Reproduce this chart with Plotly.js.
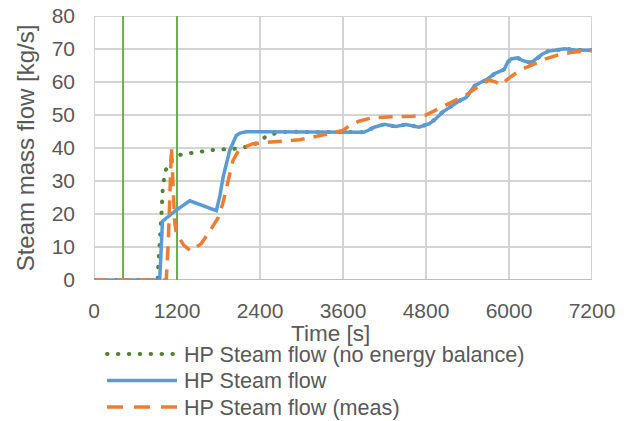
<!DOCTYPE html>
<html>
<head>
<meta charset="utf-8">
<script src="https://cdn.plot.ly/plotly-3.0.1.min.js"></script>
<style>
  html, body { margin: 0; padding: 0; background: #ffffff; }
  #chart { width: 627px; height: 421px; }
</style>
</head>
<body>
<div id="chart"></div>
<script>
// HP steam mass flow during start-up [kg/s] against time [s]

const seriesNames = [
  'HP Steam flow (no energy balance)',
  'HP Steam flow',
  'HP Steam flow (meas)'
];

// Model without energy balance
const tNoEB = [0, 920, 930, 952, 975, 995, 1010, 1030, 1095, 1190, 1310, 1500, 1750, 2000, 2080, 2250,
  2394, 2500, 2660, 2800, 3200, 3600, 3900, 3960, 4050, 4200, 4360, 4510, 4700, 4850, 4950, 5040,
  5200, 5300, 5380, 5450, 5500, 5600, 5670, 5790, 5930, 5980, 6030, 6120, 6200, 6290, 6340, 6410,
  6480, 6560, 6680, 6800, 6960, 7200];
const vNoEB = [0, 0, 4.6, 11, 20, 28, 31, 33, 35.7, 37.7, 38.2, 38.8, 39.5, 39.7, 39.8, 40.6,
  41.8, 43.8, 44.6, 44.9, 44.9, 44.8, 44.8, 45.3, 46.3, 47.2, 46.5, 47.1, 46.3, 47.4, 49, 50.9,
  53.3, 54.5, 55.3, 57.5, 58.8, 60.0, 60.6, 62.5, 63.8, 66, 67.0, 67.3, 66.5, 65.9, 66.2, 67.3,
  68.4, 69.3, 69.6, 70.1, 69.7, 69.6];

// Model with energy balance
const tFlow = [0, 950, 990, 1170, 1384, 1560, 1769, 1820, 1865, 1961, 2057, 2110, 2153, 2200, 2400,
  2800, 3200, 3600, 3900, 3960, 4050, 4200, 4360, 4510, 4700, 4850, 4950, 5040, 5200, 5300, 5380,
  5450, 5500, 5600, 5670, 5790, 5930, 5980, 6030, 6120, 6200, 6290, 6340, 6410, 6480, 6560, 6680,
  6800, 6960, 7200];
const vFlow = [0, 0, 17.8, 20.9, 24.0, 22.6, 21.0, 25.5, 31, 39.2, 43.8, 44.5, 44.8, 44.9, 44.9,
  44.9, 44.9, 44.8, 44.8, 45.3, 46.3, 47.2, 46.5, 47.1, 46.3, 47.4, 49, 50.9, 53.3, 54.5, 55.3,
  57.5, 58.8, 60.0, 60.6, 62.5, 63.8, 66, 67.0, 67.3, 66.5, 65.9, 66.2, 67.3, 68.4, 69.3, 69.6,
  70.1, 69.7, 69.6];

// Measured flow
const tMeas = [0, 1045, 1075, 1100, 1120, 1140, 1165, 1190, 1300, 1400, 1550, 1673, 1793, 1860,
  1937, 2009, 2105, 2200, 2300, 2450, 2600, 2800, 2970, 3160, 3360, 3600, 3700, 3790, 3840, 4030,
  4200, 4400, 4600, 4800, 4990, 5230, 5374, 5540, 5710, 5810, 5880, 6000, 6170, 6340, 6530, 6720,
  6910, 7200];
const vMeas = [0, 0, 12, 30, 40.2, 30, 18, 14, 10.5, 8.8, 11, 14.8, 18.8, 23, 30, 36.2, 39.8, 40.5,
  41.3, 41.6, 41.8, 42.1, 42.5, 43.3, 44.3, 45.3, 46.9, 47.6, 48.2, 49.2, 49.4, 49.5, 49.6, 50.0,
  52, 54.5, 56, 58.4, 60.6, 60, 59.1, 61.2, 63.7, 65.2, 67, 68.3, 69, 69.6];

// Event markers (vertical lines)
const markerTimes = [420, 1200];

const xTicks = [0, 1200, 2400, 3600, 4800, 6000, 7200];
const yTicks = [0, 10, 20, 30, 40, 50, 60, 70, 80];
const xRange = [0, 7200];
const yRange = [0, 80];

const GREEN_DOT = '#548235';
const BLUE = '#5b9bd5';
const ORANGE = '#ed7d31';
const MARKER = '#70ad47';
const TEXT = '#595959';
const GRID = '#d4d4d4';
const AXIS = '#bfbfbf';
const FONT = 'Liberation Sans, Arial, sans-serif';

const dotDash = '0.5px,10.4px';
const dashDash = '14px,9px';

const traces = [
  { x: tNoEB, y: vNoEB, name: seriesNames[0], mode: 'lines',
    line: { color: GREEN_DOT, width: 4, dash: dotDash } },
  { x: tFlow, y: vFlow, name: seriesNames[1], mode: 'lines',
    line: { color: BLUE, width: 3.5 } },
  { x: tMeas, y: vMeas, name: seriesNames[2], mode: 'lines',
    line: { color: ORANGE, width: 3.5, dash: dashDash } }
];

// plot area: 498 x 264 px, so every grid step lands on a whole pixel
const W = 627, H = 421;
const M = { l: 94, r: 35, t: 16, b: 141 };
const PW = W - M.l - M.r, PH = H - M.t - M.b;
const px = (x) => (x - M.l) / PW;
const py = (y) => (H - M.b - y) / PH;

// grid drawn as shapes so the frame lines at the range edges are kept too
const shapes = [];
yTicks.filter(v => v !== 0).forEach(v => shapes.push({
  type: 'line', xref: 'x', yref: 'y', x0: xRange[0], x1: xRange[1], y0: v, y1: v,
  line: { color: GRID, width: 2 }, layer: 'below'
}));
xTicks.forEach(t => shapes.push({
  type: 'line', xref: 'x', yref: 'y', x0: t, x1: t, y0: yRange[0], y1: yRange[1],
  line: { color: GRID, width: 2 }, layer: 'below'
}));
// horizontal axis line
shapes.push({
  type: 'line', xref: 'x', yref: 'y', x0: xRange[0], x1: xRange[1], y0: 0, y1: 0,
  line: { color: AXIS, width: 2 }, layer: 'below'
});
markerTimes.forEach(t => shapes.push({
  type: 'line', xref: 'x', yref: 'y', x0: t, x1: t, y0: yRange[0], y1: yRange[1],
  line: { color: MARKER, width: 2 }, layer: 'below'
}));

const legendRows = [354, 380.5, 407];
const legendStyles = [
  { color: GREEN_DOT, width: 4, dash: dotDash },
  { color: BLUE, width: 3.5, dash: 'solid' },
  { color: ORANGE, width: 3.5, dash: '16px,11px' }
];
legendRows.forEach((yy, i) => {
  shapes.push({
    type: 'line', xref: 'paper', yref: 'paper',
    x0: px(107), x1: px(177), y0: py(yy), y1: py(yy),
    line: legendStyles[i]
  });
});

const annotations = legendRows.map((yy, i) => ({
  xref: 'paper', yref: 'paper', x: px(183), y: py(yy),
  xanchor: 'left', yanchor: 'middle', showarrow: false, borderpad: 0,
  text: seriesNames[i], font: { family: FONT, size: 21.6, color: TEXT }
}));
annotations.push({
  xref: 'paper', yref: 'paper', x: px(330), y: py(333),
  xanchor: 'center', yanchor: 'middle', showarrow: false, borderpad: 0,
  text: 'Time [s]', font: { family: FONT, size: 22.5, color: TEXT }
});

const layout = {
  width: W, height: H,
  margin: M,
  paper_bgcolor: '#ffffff', plot_bgcolor: '#ffffff',
  showlegend: false,
  font: { family: FONT, size: 21, color: TEXT },
  xaxis: {
    range: xRange, tickmode: 'array', tickvals: xTicks, ticktext: xTicks.map(String),
    showgrid: false, zeroline: false, showline: false, ticks: '', ticklabelstandoff: 16,
    tickfont: { family: FONT, size: 21, color: TEXT }
  },
  yaxis: {
    range: yRange, tickmode: 'array', tickvals: yTicks, ticktext: yTicks.map(String),
    showgrid: false, zeroline: false, showline: false, ticks: '', ticklabelstandoff: 18,
    tickfont: { family: FONT, size: 21, color: TEXT },
    title: { text: 'Steam mass flow [kg/s]', standoff: 10, font: { family: FONT, size: 24, color: TEXT } }
  },
  shapes: shapes,
  annotations: annotations
};

Plotly.newPlot('chart', traces, layout, { displayModeBar: false }).then(() => {
  // round caps turn the dotted dash pattern into round dots
  document.querySelectorAll('#chart path').forEach(p => {
    const s = p.style.stroke || p.getAttribute('stroke') || '';
    if (s.replace(/\s/g, '') === 'rgb(84,130,53)' || s.toLowerCase() === GREEN_DOT) {
      p.style.strokeLinecap = 'round';
    }
  });
});
</script>
</body>
</html>
